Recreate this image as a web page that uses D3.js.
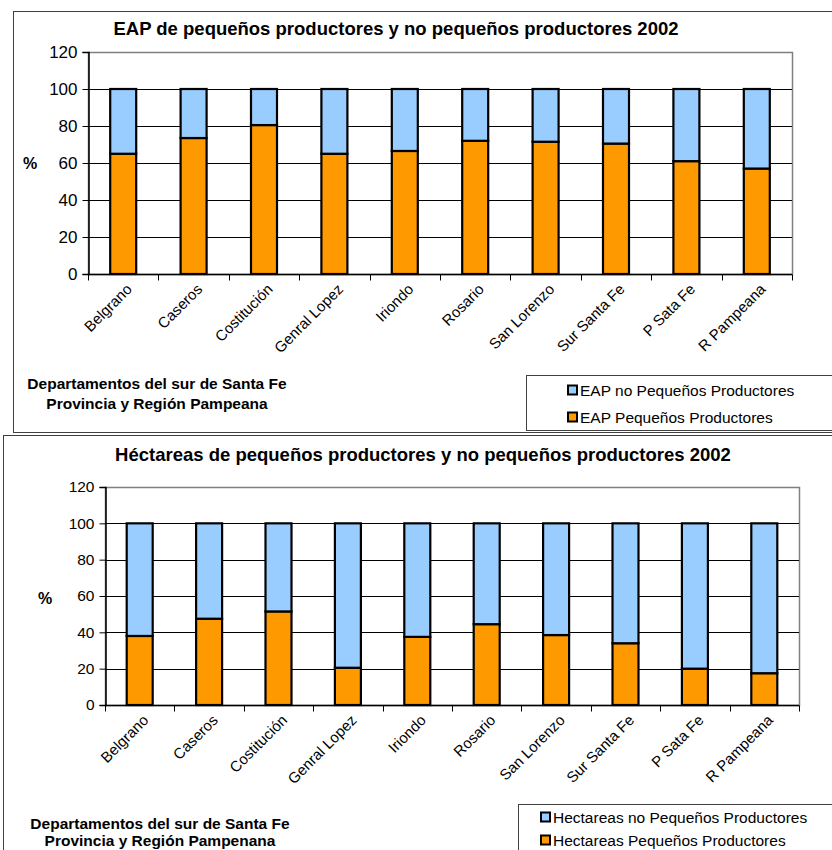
<!DOCTYPE html>
<html>
<head>
<meta charset="utf-8">
<script src="https://cdn.jsdelivr.net/npm/d3@7"></script>
<style>
  html, body { margin: 0; padding: 0; background: #fff; }
  svg { display: block; font-family: "Liberation Sans", Arial, sans-serif; }
</style>
</head>
<body>
<svg id="chart" width="832" height="850"></svg>
<script>
// ---------------- DATA ----------------
const categories = ["Belgrano", "Caseros", "Costitución", "Genral Lopez", "Iriondo",
                    "Rosario", "San Lorenzo", "Sur Santa Fe", "P Sata Fe", "R Pampeana"];

// Chart 1: EAP (%)
const eapPequenos   = [65, 73.5, 80.5, 65, 66.5, 72, 71.5, 70.5, 61, 57];
const eapNoPequenos = [35, 26.5, 19.5, 35, 33.5, 28, 28.5, 29.5, 39, 43];

// Chart 2: Hectáreas (%)
const hectPequenos   = [38, 47.5, 51.5, 20.5, 37.5, 44.5, 38.5, 34, 20, 17.5];
const hectNoPequenos = [62, 52.5, 48.5, 79.5, 62.5, 55.5, 61.5, 66, 80, 82.5];

const yTicks = [0, 20, 40, 60, 80, 100, 120];

const title1 = "EAP de pequeños productores y no pequeños productores 2002";
const title2 = "Héctareas de pequeños productores y no pequeños productores 2002";
const legend1 = ["EAP no Pequeños Productores", "EAP Pequeños Productores"];
const legend2 = ["Hectareas no Pequeños Productores", "Hectareas Pequeños Productores"];
const xTitle1 = ["Departamentos del sur de Santa Fe", "Provincia y Región Pampeana"];
const xTitle2 = ["Departamentos del sur de  Santa Fe", "Provincia  y Región Pampenana"];

const ORANGE = "#FF9900";
const BLUE = "#99CCFF";

const svg = d3.select("#chart");

function drawChart(cfg) {
  const g = svg.append("g");

  // outer chart frame
  g.append("rect")
    .attr("x", cfg.frame.x + 0.5).attr("y", cfg.frame.y + 0.5)
    .attr("width", cfg.frame.w).attr("height", cfg.frame.h)
    .attr("fill", "#fff").attr("stroke", "#404040").attr("stroke-width", 1);

  const x = d3.scaleBand().domain(categories).range([cfg.x0, cfg.x1]);
  const y = d3.scaleLinear().domain([0, 120]).range([cfg.yB, cfg.yT]);

  // plot area border (gray top/right)
  g.append("rect")
    .attr("x", cfg.x0 + 0.5).attr("y", y(120) + 0.5)
    .attr("width", cfg.x1 - cfg.x0).attr("height", cfg.yB - y(120))
    .attr("fill", "none").attr("stroke", "#808080").attr("stroke-width", 1.5);

  // gridlines
  g.append("g").selectAll("line")
    .data(yTicks.filter(t => t > 0 && t < 120))
    .join("line")
    .attr("x1", cfg.x0).attr("x2", cfg.x1)
    .attr("y1", d => Math.round(y(d)) + 0.5).attr("y2", d => Math.round(y(d)) + 0.5)
    .attr("stroke", "#000").attr("stroke-width", 1);

  // stacked bars
  const rows = categories.map((c, i) => ({ cat: c, peq: cfg.peq[i], nopeq: cfg.nopeq[i] }));
  const stack = d3.stack().keys(["peq", "nopeq"])(rows);
  const colors = { peq: ORANGE, nopeq: BLUE };
  const bw = 26;
  stack.forEach(layer => {
    g.append("g").selectAll("rect")
      .data(layer)
      .join("rect")
      .attr("x", d => x(d.data.cat) + x.bandwidth() / 2 - bw / 2)
      .attr("y", d => y(d[1]))
      .attr("width", bw)
      .attr("height", d => y(d[0]) - y(d[1]))
      .attr("fill", colors[layer.key])
      .attr("stroke", "#000").attr("stroke-width", 2.2);
  });

  // y axis
  const yAxis = d3.axisLeft(y).tickValues(yTicks).tickSize(6).tickPadding(5).tickFormat(d3.format("d"));
  const ya = g.append("g").attr("transform", `translate(${cfg.x0 + 0.5},0)`).call(yAxis);
  ya.select(".domain").attr("stroke", "#000").attr("stroke-width", 1.5);
  ya.selectAll(".tick line").attr("stroke", "#000");
  ya.selectAll(".tick text").attr("font-size", cfg.tickFont).attr("fill", "#000")
    .attr("font-family", "Liberation Sans, Arial, sans-serif");

  // x axis (ticks at band edges)
  const xa = g.append("g").attr("transform", `translate(0,${cfg.yB + 0.5})`);
  xa.append("line").attr("x1", cfg.x0).attr("x2", cfg.x1)
    .attr("stroke", "#000").attr("stroke-width", 1.5);
  const edges = categories.map(c => x(c)).concat([cfg.x1]);
  xa.selectAll("line.tk").data(edges).join("line").attr("class", "tk")
    .attr("x1", d => Math.round(d) + 0.5).attr("x2", d => Math.round(d) + 0.5)
    .attr("y1", 0).attr("y2", 6).attr("stroke", "#000");
  xa.selectAll("text").data(categories).join("text")
    .attr("transform", d => `translate(${x(d) + x.bandwidth() / 2 + 6},${12}) rotate(-45)`)
    .attr("text-anchor", "end")
    .attr("dy", "0.35em")
    .attr("font-size", cfg.labelFont)
    .attr("fill", "#000")
    .text(d => d);

  // title
  g.append("text").attr("x", cfg.titleX).attr("y", cfg.titleY)
    .attr("text-anchor", "middle").attr("font-weight", "bold")
    .attr("font-size", 18.5).text(cfg.title);

  // y label
  g.append("text").attr("x", cfg.pctX).attr("y", cfg.pctY)
    .attr("text-anchor", "middle").attr("font-weight", "bold")
    .attr("font-size", 16).text("%");

  // x axis title
  g.selectAll("text.xt").data(cfg.xTitle).join("text").attr("class", "xt")
    .attr("x", cfg.xtX).attr("y", (d, i) => cfg.xtY + i * cfg.xtGap)
    .attr("text-anchor", "middle").attr("font-weight", "bold")
    .attr("font-size", 15.5).text(d => d);

  // legend
  const lg = g.append("g");
  lg.append("rect").attr("x", cfg.leg.x + 0.5).attr("y", cfg.leg.y + 0.5)
    .attr("width", 400).attr("height", cfg.leg.h)
    .attr("fill", "#fff").attr("stroke", "#404040").attr("stroke-width", 1);
  const legItems = [{ t: cfg.legend[0], c: BLUE }, { t: cfg.legend[1], c: ORANGE }];
  const li = lg.selectAll("g.li").data(legItems).join("g").attr("class", "li")
    .attr("transform", (d, i) => `translate(${cfg.leg.sx},${cfg.leg.cy0 + i * cfg.leg.gap})`);
  li.append("rect").attr("x", 1).attr("y", -4.5).attr("width", 9).attr("height", 9)
    .attr("fill", d => d.c).attr("stroke", "#000").attr("stroke-width", 2);
  li.append("text").attr("x", 13).attr("y", 0).attr("dy", "0.36em")
    .attr("font-size", 15.5).text(d => d.t);
}

drawChart({
  frame: { x: 13, y: 11, w: 900, h: 421 },
  x0: 88, x1: 792, yT: 52, yB: 274,
  peq: eapPequenos, nopeq: eapNoPequenos,
  title: title1, titleX: 396, titleY: 35,
  pctX: 30, pctY: 169,
  tickFont: 17, labelFont: 15,
  xTitle: xTitle1, xtX: 157, xtY: 389, xtGap: 19.5,
  legend: legend1,
  leg: { x: 526, y: 375, h: 55, sx: 567, cy0: 390, gap: 27 }
});

drawChart({
  frame: { x: 3, y: 435, w: 900, h: 500 },
  x0: 105, x1: 799, yT: 487, yB: 705,
  peq: hectPequenos, nopeq: hectNoPequenos,
  title: title2, titleX: 423, titleY: 461,
  pctX: 45, pctY: 604,
  tickFont: 15.5, labelFont: 15,
  xTitle: xTitle2, xtX: 160, xtY: 829, xtGap: 17,
  legend: legend2,
  leg: { x: 518, y: 804, h: 80, sx: 540, cy0: 817, gap: 23 }
});
</script>
</body>
</html>
